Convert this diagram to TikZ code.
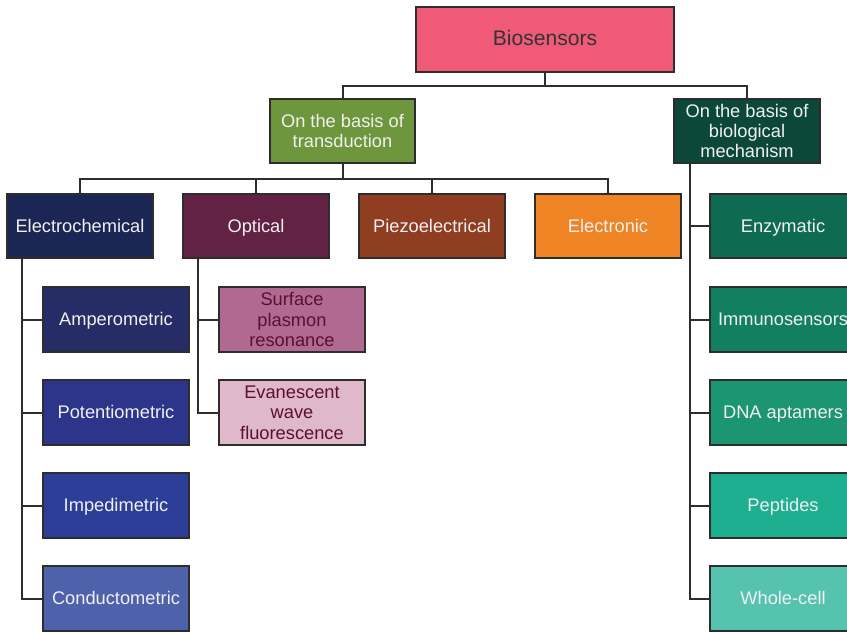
\documentclass[tikz,border=0pt]{standalone}
\usepackage{fontspec}
\setmainfont{Liberation Sans}
\definecolor{bordergray}{RGB}{45,45,45}
\definecolor{cbios}{RGB}{240,90,120}
\definecolor{ctrans}{RGB}{110,150,60}
\definecolor{cmech}{RGB}{12,72,58}
\definecolor{celectro}{RGB}{28,38,84}
\definecolor{coptical}{RGB}{98,34,68}
\definecolor{cpiezo}{RGB}{143,62,34}
\definecolor{celectronic}{RGB}{239,132,37}
\definecolor{cenzym}{RGB}{15,106,84}
\definecolor{cimmuno}{RGB}{18,126,98}
\definecolor{cdna}{RGB}{28,150,114}
\definecolor{cpept}{RGB}{30,175,144}
\definecolor{cwhole}{RGB}{86,195,174}
\definecolor{camp}{RGB}{38,44,102}
\definecolor{cpot}{RGB}{44,53,137}
\definecolor{cimp}{RGB}{44,62,152}
\definecolor{ccond}{RGB}{78,98,172}
\definecolor{cspr}{RGB}{176,106,146}
\definecolor{cewf}{RGB}{224,184,204}
\definecolor{maroontext}{RGB}{90,16,48}
\tikzset{
  catbox/.style={draw=bordergray, line width=0.04cm, minimum width=2.92cm,
    minimum height=1.3cm, inner sep=1pt, align=center, text=white!94!black,
    font=\fontsize{10.4}{11.6}\selectfont},
  oneline/.style={text height=0.716em, text depth=0pt},
  link/.style={draw=bordergray, line width=0.04cm}
}
\begin{document}
\begin{tikzpicture}[x=0.02cm, y=-0.02cm]
  \useasboundingbox (0,0) rectangle (847,632);
  \clip (0,0) rectangle (847,632);

  % Top level
  \node[catbox, oneline, fill=cbios, minimum width=5.16cm, text=black!80,
    font=\fontsize{12}{14}\selectfont] (bios) at (545,39.5) {Biosensors};

  % Second level
  \node[catbox, fill=ctrans] (trans) at (342.5,131) {On the basis of\\transduction};
  \node[catbox, fill=cmech] (mech) at (747,131) {On the basis of\\biological\\mechanism};

  % Transduction classes
  \node[catbox, oneline, fill=celectro] (electro) at (80,226) {Electrochemical};
  \node[catbox, oneline, fill=coptical] (optical) at (256,226) {Optical};
  \node[catbox, oneline, fill=cpiezo] (piezo) at (432,226) {Piezoelectrical};
  \node[catbox, oneline, fill=celectronic] (electronic) at (608,226) {Electronic};

  % Electrochemical children
  \node[catbox, oneline, fill=camp] (amp) at (116,319.5) {Amperometric};
  \node[catbox, oneline, fill=cpot] (pot) at (116,412.5) {Potentiometric};
  \node[catbox, oneline, fill=cimp] (imp) at (116,505.5) {Impedimetric};
  \node[catbox, oneline, fill=ccond] (cond) at (116,598.5) {Conductometric};

  % Optical children
  \node[catbox, fill=cspr, text=maroontext] (spr) at (292,319.5) {Surface\\plasmon\\resonance};
  \node[catbox, fill=cewf, text=maroontext] (ewf) at (292,412.5) {Evanescent\\wave\\fluorescence};

  % Biological mechanism children
  \node[catbox, oneline, fill=cenzym] (enzym) at (783,226) {Enzymatic};
  \node[catbox, oneline, fill=cimmuno] (immuno) at (783,319.5) {Immunosensors};
  \node[catbox, oneline, fill=cdna] (dna) at (783,412.5) {DNA aptamers};
  \node[catbox, oneline, fill=cpept] (pept) at (783,505.5) {Peptides};
  \node[catbox, oneline, fill=cwhole] (whole) at (783,598.5) {Whole-cell};

  % Trunk points
  \coordinate (eltrunk) at (22,259);
  \coordinate (optrunk) at (198,259);
  \coordinate (mechtrunk) at (690,164);

  % Drawing tree from top
  \draw[link] (bios.south) -- ++(0,13) -| (trans.north);
  \draw[link] (bios.south) -- ++(0,13) -| (mech.north);

  % Drawing transduction bus
  \foreach \kid in {electro,optical,piezo,electronic}
    \draw[link] (trans.south) -- ++(0,15) -| (\kid.north);

  % Drawing side branches
  \foreach \kid in {amp,pot,imp,cond}
    \draw[link] (eltrunk) |- (\kid.west);
  \foreach \kid in {spr,ewf}
    \draw[link] (optrunk) |- (\kid.west);
  \foreach \kid in {enzym,immuno,dna,pept,whole}
    \draw[link] (mechtrunk) |- (\kid.west);
\end{tikzpicture}
\end{document}
